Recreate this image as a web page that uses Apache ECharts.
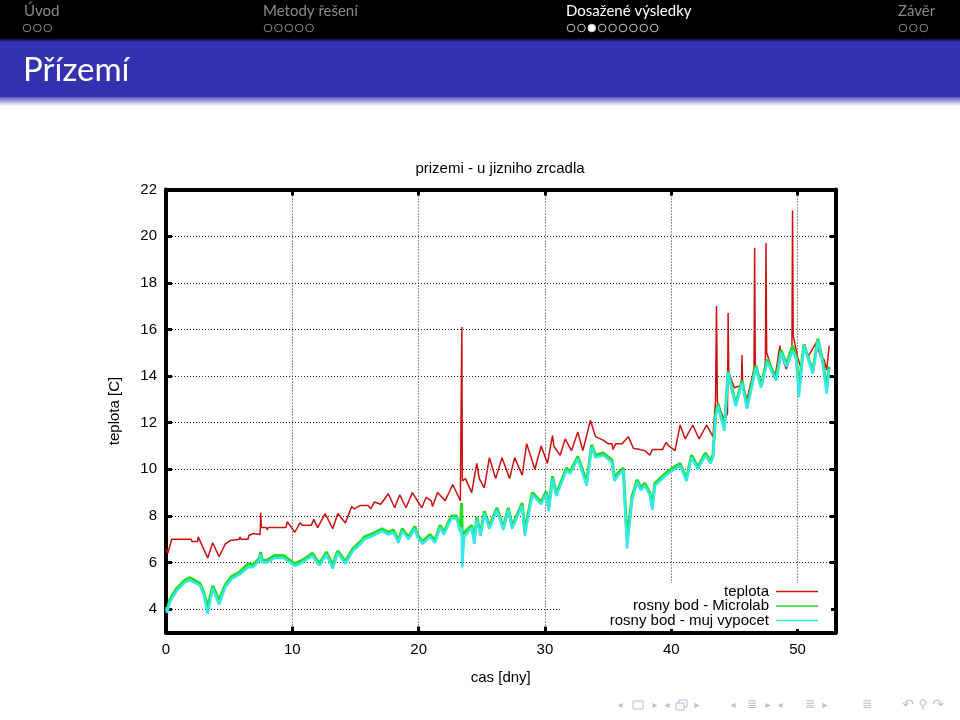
<!DOCTYPE html>
<html>
<head>
<meta charset="utf-8">
<script src="https://cdn.jsdelivr.net/npm/echarts@6/dist/echarts.min.js"></script>
<style>
html,body{margin:0;padding:0;background:#fff;}
#chart{width:960px;height:720px;}
</style>
</head>
<body>
<div id="chart"></div>
<script>
// ---------- data ----------
const chartTitle = 'prizemi - u jizniho zrcadla';
const xName = 'cas [dny]';
const yName = 'teplota [C]';
const seriesNames = ['teplota', 'rosny bod - Microlab', 'rosny bod - muj vypocet'];
const xTickValues = [0, 10, 20, 30, 40, 50];
const yTickValues = [4, 6, 8, 10, 12, 14, 16, 18, 20, 22];

const teplotaDays = [0.0,0.15,0.45,2.0,2.05,2.5,2.55,2.8,3.3,3.7,4.2,4.7,5.1,5.8,5.85,5.95,6.5,6.55,6.9,7.0,7.45,7.5,7.55,7.95,8.0,8.1,9.5,9.6,9.8,10.2,10.6,10.8,11.5,11.7,12.0,12.6,13.2,13.6,14.2,14.7,14.9,15.4,16.0,16.2,16.5,17.0,17.6,18.1,18.5,19.0,19.5,20.25,20.6,21.0,21.1,21.5,22.1,22.7,23.3,23.38,23.42,23.46,23.7,24.2,24.6,24.8,25.2,25.6,26.1,26.6,27.2,27.6,28.2,28.55,29.2,29.7,30.2,30.6,30.7,31.2,31.6,32.1,32.6,33.0,33.6,34.0,34.6,35.0,35.3,35.4,35.6,36.1,36.6,37.0,37.5,37.9,38.3,38.5,39.3,39.6,39.8,40.3,40.7,41.1,41.7,42.2,42.8,43.3,43.5,43.58,43.65,44.2,44.45,44.5,44.55,45.0,45.55,45.6,45.65,46.0,46.55,46.6,46.65,47.2,47.45,47.5,47.55,48.2,48.6,48.7,49.1,49.55,49.6,49.65,50.0,50.3,50.55,50.8,51.5,51.8,52.1,52.3,52.5];
const teplotaValues = [6.6,6.4,7.0,7.0,6.9,6.9,7.1,6.8,6.2,6.85,6.25,6.8,6.95,7.0,7.1,7.0,7.0,7.15,7.25,7.2,7.2,8.15,7.5,7.5,7.4,7.5,7.5,7.75,7.6,7.3,7.7,7.6,7.6,7.85,7.5,8.1,7.45,8.1,7.7,8.4,8.3,8.45,8.45,8.3,8.6,8.5,8.95,8.35,8.9,8.35,9.0,8.35,8.8,8.65,8.4,9.0,8.65,9.35,8.65,8.7,16.1,9.5,9.6,9.0,10.25,9.6,9.2,10.5,9.6,10.5,9.6,10.5,9.75,11.1,10.0,11.0,10.25,11.45,11.0,10.6,11.3,10.8,11.6,10.8,12.1,11.4,11.25,11.1,11.1,10.85,11.1,11.1,11.4,10.9,10.85,10.8,10.6,10.85,10.85,11.15,11.0,10.8,11.9,11.3,11.9,11.3,11.9,11.4,12.9,17.0,12.9,12.1,12.4,16.7,14.15,13.5,13.6,14.9,13.6,13.0,14.3,19.5,14.4,13.6,14.6,19.7,15.0,13.9,15.3,14.9,14.3,15.0,21.1,15.75,14.8,14.3,15.35,14.8,15.45,14.85,14.7,14.25,15.3];

const rosnyDays = [0.0,0.1,0.3,0.85,1.5,1.9,2.4,2.7,3.0,3.3,3.7,4.2,4.7,5.2,5.85,6.5,6.9,7.4,7.5,7.6,8.0,8.6,9.3,9.8,10.2,10.8,11.6,12.0,12.2,12.7,13.2,13.6,14.2,14.8,15.5,15.7,16.4,17.1,17.6,18.0,18.4,18.7,19.2,19.7,19.9,20.3,20.9,21.3,21.7,22.0,22.6,23.0,23.3,23.4,23.45,23.6,24.2,24.4,24.6,24.9,25.2,25.6,26.2,26.7,27.1,27.4,28.2,28.4,29.0,29.7,30.1,30.3,30.6,30.9,31.7,32.0,32.6,33.3,33.7,34.0,34.6,35.3,35.5,35.8,36.2,36.5,36.9,37.3,37.6,37.9,38.3,38.5,38.7,39.5,40.1,40.7,41.2,41.6,42.1,42.7,43.1,43.3,43.5,43.7,44.2,44.5,45.1,45.6,46.0,46.7,47.1,47.6,48.3,48.7,49.1,49.6,49.9,50.1,50.5,51.2,51.6,52.0,52.3,52.5];
const microlabValues = [4.1,4.0,4.4,4.9,5.25,5.35,5.2,5.1,4.7,4.1,5.0,4.4,5.05,5.4,5.6,5.95,5.9,6.2,6.45,6.1,6.1,6.3,6.3,6.1,5.95,6.1,6.4,6.05,6.0,6.45,5.9,6.5,6.05,6.6,6.95,7.1,7.25,7.45,7.3,7.4,6.95,7.45,7.1,7.55,7.2,6.9,7.2,6.95,7.6,7.3,8.0,8.0,7.4,8.55,7.2,7.2,7.6,6.95,7.95,7.25,8.2,7.55,8.35,7.5,8.35,7.55,8.55,7.35,9.0,8.6,9.05,8.35,9.7,8.95,10.05,9.9,10.55,9.45,11.05,10.6,10.7,10.4,9.65,9.85,10.05,7.0,8.85,9.55,9.2,9.4,9.0,8.4,9.4,9.8,10.05,10.25,9.6,10.6,10.1,10.7,10.35,10.6,12.3,12.8,11.75,14.2,12.8,13.8,12.7,14.45,13.6,14.7,13.9,15.1,14.5,15.3,14.8,13.5,15.35,14.2,15.6,14.6,13.5,14.4];
const vypocetValues = [4.0,3.85,4.3,4.8,5.15,5.25,5.1,5.0,4.6,3.8,4.9,4.2,4.95,5.3,5.5,5.8,5.8,6.1,6.35,6.0,6.0,6.2,6.2,6.0,5.85,6.0,6.3,5.95,5.9,6.35,5.75,6.4,5.95,6.5,6.85,7.0,7.15,7.35,7.2,7.3,6.85,7.35,7.0,7.45,7.1,6.8,7.1,6.85,7.5,7.2,7.9,7.9,7.3,7.5,5.8,7.1,7.5,6.8,7.85,7.15,8.1,7.45,8.25,7.4,8.25,7.45,8.45,7.15,8.9,8.5,8.95,8.2,9.6,8.85,9.95,9.8,10.45,9.3,10.95,10.5,10.6,10.3,9.5,9.75,9.95,6.6,8.7,9.45,9.1,9.3,8.9,8.25,9.3,9.7,9.95,10.15,9.5,10.5,10.0,10.6,10.25,10.5,12.2,12.7,11.65,14.15,12.7,13.7,12.6,14.35,13.5,14.6,13.8,15.0,14.4,15.1,14.7,13.1,15.3,14.1,15.5,14.5,13.25,14.3];

// ---------- build ----------
function zip(xs, ys) { return xs.map((x, i) => [x, ys[i]]); }

const plotFont = 'Liberation Sans, Arial, sans-serif';
const slideFont = 'Lato, Open Sans, sans-serif';
const seriesColors = ['#cc1111', '#22dd22', '#33e8e8'];

const chart = echarts.init(document.getElementById('chart'), null, {renderer: 'canvas'});

function miniFrames(x0, count, filledIdx, color) {
  const out = [];
  for (let i = 0; i < count; i++) {
    out.push({
      type: 'circle', z: 50,
      shape: {cx: x0 + i * 10.4, cy: 28, r: 3.8},
      style: {fill: i === filledIdx ? '#ffffff' : 'none', stroke: color, lineWidth: 1}
    });
  }
  return out;
}

const navColor = '#bcbcd6';
function navText(x, t, size) {
  return {type: 'text', z: 50, x: x, y: 705,
    style: {text: t, fill: navColor, font: (size || 12) + 'px DejaVu Sans', textAlign: 'center', textVerticalAlign: 'middle'}};
}

const graphics = [
  // header bars
  {type: 'rect', z: 40, shape: {x: 0, y: 0, width: 960, height: 40}, style: {fill: '#000'}},
  {type: 'rect', z: 40, shape: {x: 0, y: 38, width: 960, height: 4},
   style: {fill: {type: 'linear', x: 0, y: 0, x2: 0, y2: 1, colorStops: [{offset: 0, color: '#000'}, {offset: 1, color: '#3333b2'}]}}},
  {type: 'rect', z: 40, shape: {x: 0, y: 42, width: 960, height: 55}, style: {fill: '#3333b2'}},
  {type: 'rect', z: 40, shape: {x: 0, y: 97, width: 960, height: 9},
   style: {fill: {type: 'linear', x: 0, y: 0, x2: 0, y2: 1, colorStops: [{offset: 0, color: '#5c5cc0'}, {offset: 1, color: '#ffffff'}]}}},
  // section names
  {type: 'text', z: 50, x: 24, y: 11, style: {text: 'Úvod', fill: '#8a8a8a', font: '15px ' + slideFont, textVerticalAlign: 'middle'}},
  {type: 'text', z: 50, x: 263, y: 11, style: {text: 'Metody řešení', fill: '#8a8a8a', font: '15px ' + slideFont, textVerticalAlign: 'middle'}},
  {type: 'text', z: 50, x: 566, y: 11, style: {text: 'Dosažené výsledky', fill: '#ffffff', font: '15px ' + slideFont, textVerticalAlign: 'middle'}},
  {type: 'text', z: 50, x: 898, y: 11, style: {text: 'Závěr', fill: '#8a8a8a', font: '15px ' + slideFont, textVerticalAlign: 'middle'}},
  // frame title
  {type: 'text', z: 50, x: 23, y: 70, style: {text: 'Přízemí', fill: '#ffffff', font: '33px ' + slideFont, textVerticalAlign: 'middle'}},
  // chart title
  {type: 'text', z: 50, x: 500, y: 169, style: {text: chartTitle, fill: '#000', font: '15px ' + plotFont, textAlign: 'center', textVerticalAlign: 'middle'}},
  // legend box background (opaque key box like gnuplot)
  {type: 'rect', z: 10, shape: {x: 561, y: 583, width: 270, height: 46}, style: {fill: '#ffffff'}},
  // bottom navigation symbols
  navText(620, '◂', 10), {type: 'rect', z: 50, shape: {x: 633, y: 701, width: 10, height: 8}, style: {fill: 'none', stroke: navColor, lineWidth: 1}}, navText(655, '▸', 10),
  navText(667, '◂', 10),
  {type: 'rect', z: 50, shape: {x: 676, y: 703, width: 8, height: 7}, style: {fill: '#fff', stroke: navColor, lineWidth: 1}},
  {type: 'rect', z: 49, shape: {x: 679, y: 700, width: 8, height: 7}, style: {fill: '#fff', stroke: navColor, lineWidth: 1}},
  navText(697, '▸', 10),
  navText(733, '◂', 10), navText(752, '≣', 12), navText(768, '▸', 10),
  navText(780, '◂', 10), navText(810, '≣', 12), navText(825, '▸', 10),
  navText(867, '≣', 12),
  navText(908, '↶', 14), navText(923, '⚲', 12), navText(938, '↷', 14)
].concat(
  miniFrames(27, 3, -1, '#8a8a8a'),
  miniFrames(268, 5, -1, '#8a8a8a'),
  miniFrames(571, 9, 2, '#c8c8c8'),
  miniFrames(903, 3, -1, '#8a8a8a')
);

const axisLineStyle = {show: true, onZero: false, lineStyle: {color: '#000', width: 4}};
const tickStyle = {show: true, inside: true, length: 6, lineStyle: {color: '#000', width: 3}};
const gridLineStyle = {show: true, lineStyle: {color: '#222', width: 1, type: [1, 2]}};
const labelStyle = {color: '#000', fontSize: 15, fontFamily: plotFont};

function legendFor(name, top) {
  return {
    data: [name], right: 142, top: top, orient: 'horizontal', align: 'right',
    padding: 0, itemWidth: 42, itemHeight: 1.6, icon: 'rect', z: 20, selectedMode: false,
    textStyle: {color: '#000', fontSize: 15, fontFamily: plotFont, padding: [0, 2, 0, 0]}
  };
}

const option = {
  animation: false,
  backgroundColor: '#ffffff',
  grid: {left: 166, right: 124.5, top: 189.5, bottom: 87.5, containLabel: false},
  graphic: {elements: graphics},
  legend: [
    legendFor(seriesNames[0], 584),
    legendFor(seriesNames[1], 598.5),
    legendFor(seriesNames[2], 613)
  ],
  xAxis: [
    {type: 'value', min: 0, max: 53, position: 'bottom',
     axisLine: axisLineStyle,
     axisTick: Object.assign({customValues: xTickValues}, tickStyle),
     axisLabel: Object.assign({customValues: xTickValues, margin: 10}, labelStyle),
     splitLine: gridLineStyle,
     name: xName, nameLocation: 'middle', nameGap: 38,
     nameTextStyle: {color: '#000', fontSize: 15, fontFamily: plotFont}},
    {type: 'value', min: 0, max: 53, position: 'top',
     axisLine: axisLineStyle,
     axisTick: Object.assign({customValues: xTickValues}, tickStyle),
     axisLabel: {show: false}, splitLine: {show: false}}
  ],
  yAxis: [
    {type: 'value', min: 3, max: 22, position: 'left',
     axisLine: axisLineStyle,
     axisTick: Object.assign({customValues: yTickValues}, tickStyle),
     axisLabel: Object.assign({customValues: yTickValues, margin: 9}, labelStyle),
     splitLine: gridLineStyle,
     name: yName, nameLocation: 'middle', nameGap: 44, nameRotate: 90,
     nameTextStyle: {color: '#000', fontSize: 15, fontFamily: plotFont}},
    {type: 'value', min: 3, max: 22, position: 'right',
     axisLine: axisLineStyle,
     axisTick: Object.assign({customValues: yTickValues}, tickStyle),
     axisLabel: {show: false}, splitLine: {show: false}}
  ],
  series: [
    {name: seriesNames[0], type: 'line', data: zip(teplotaDays, teplotaValues),
     symbol: 'none', showSymbol: false, z: 2,
     lineStyle: {color: seriesColors[0], width: 1.5}, itemStyle: {color: seriesColors[0]}},
    {name: seriesNames[1], type: 'line', data: zip(rosnyDays, microlabValues),
     symbol: 'none', showSymbol: false, z: 3,
     lineStyle: {color: seriesColors[1], width: 3}, itemStyle: {color: seriesColors[1]}},
    {name: seriesNames[2], type: 'line', data: zip(rosnyDays, vypocetValues),
     symbol: 'none', showSymbol: false, z: 4,
     lineStyle: {color: seriesColors[2], width: 2.5}, itemStyle: {color: seriesColors[2]}}
  ]
};

chart.setOption(option);
</script>
</body>
</html>
